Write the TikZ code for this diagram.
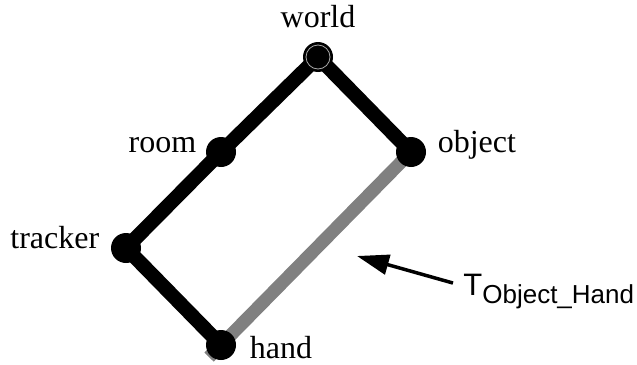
\documentclass[tikz,border=0pt]{standalone}
\usepackage{fontspec}
\setmainfont{Liberation Serif}
\newfontfamily\sanslabel{Liberation Sans}
\usetikzlibrary{positioning,arrows.meta,calc,backgrounds}
\definecolor{linkBlack}{HTML}{000000}
\definecolor{pathGray}{HTML}{808080}
\definecolor{ringGray}{HTML}{A8A8A8}
\tikzset{
    dot/.style={circle,fill=linkBlack,inner sep=0pt,minimum size=15pt},
    rootdot/.style={dot,path picture={\draw[ringGray,line width=0.4pt]
        (path picture bounding box.center) circle (6pt);}},
    lbl/.style={inner sep=0pt,font=\fontsize{16}{19}\selectfont},
    tlbl/.style={inner sep=0pt,font=\sanslabel\fontsize{15.5}{18}\selectfont},
    link/.style={draw=linkBlack,line width=7.2pt},
    graylink/.style={draw=pathGray,line width=6.5pt},
    pointer/.style={-{Triangle[length=16pt,width=10pt]},draw=linkBlack,line width=1.75pt}
}
\begin{document}
\begin{tikzpicture}[x=0.5pt,y=-0.5pt]
    \useasboundingbox (0,0) rectangle (637,364);
    % frames
    \node[rootdot] (world) at (318,57) {};
    \node[dot] (room) at (221,152) {};
    \node[dot] (object) at (411,152) {};
    \node[dot] (tracker) at (126,248) {};
    \node[dot] (hand) at (221,345) {};
    % labels
    \node[lbl,above=6.5pt of world] (worldtxt) {world};
    \node[lbl,left=4.5pt of room,anchor=base east] (roomtxt) {room};
    \node[lbl,right=5.5pt of object,anchor=base west] (objecttxt) {object};
    \node[lbl,left=5.5pt of tracker,anchor=base east] (trackertxt) {tracker};
    \node[lbl,right=6.5pt of hand,anchor=base west,yshift=-6.5pt] (handtxt) {hand};
    \node[tlbl,anchor=base west] (tobjhand) at (463,295)
        {T\raisebox{-4pt}{\fontsize{13}{15}\selectfont Object\_Hand}};
    \coordinate (tip) at (357,256);
    % links
    \begin{scope}[on background layer]
        \draw[graylink] (object.center) -- ($(hand.center)!-8.5pt!(object.center)$);
        \draw[link] (world.center) -- (room.center) -- (tracker.center) -- (hand.center);
        \draw[link] (world.center) -- (object.center);
    \end{scope}
    \draw[pointer] ([xshift=-5pt,yshift=4pt]tobjhand.west) -- (tip);
\end{tikzpicture}
\end{document}
